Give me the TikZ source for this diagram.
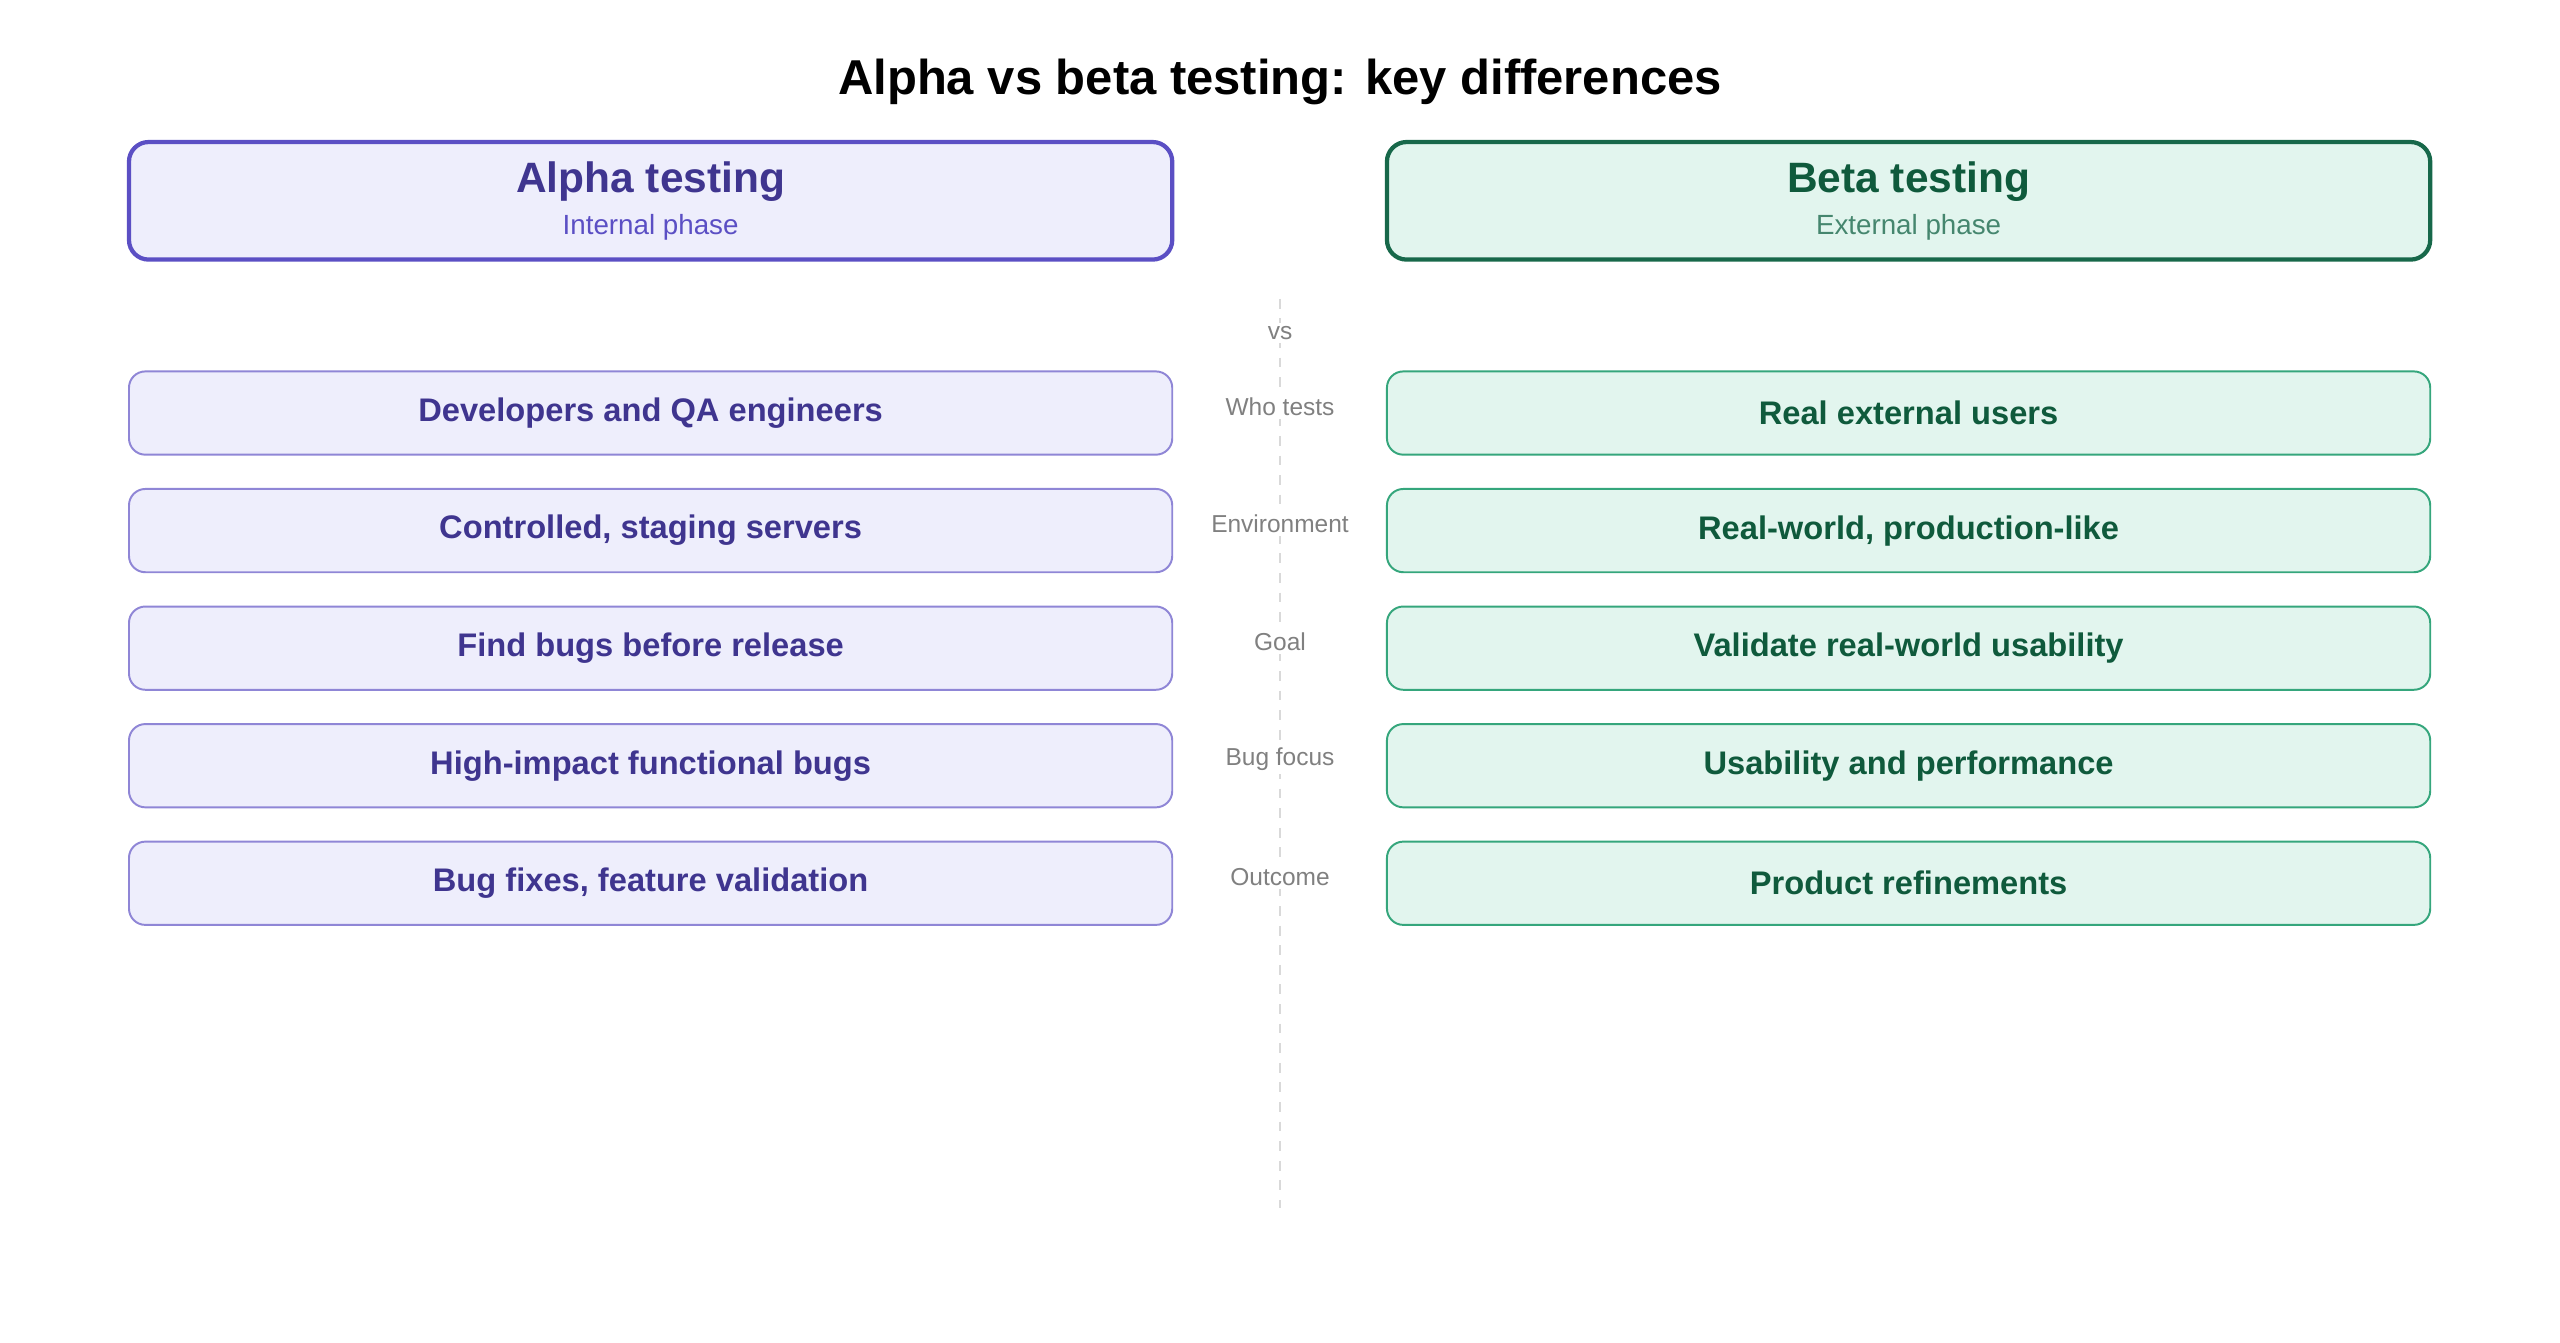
\documentclass[tikz,border=0pt]{standalone}
\usepackage{fontspec}
\setmainfont{Liberation Sans}
\usetikzlibrary{positioning}
\definecolor{alphafill}{HTML}{EEEEFC}
\definecolor{alphaline}{HTML}{5B4FC4}
\definecolor{alpharow}{HTML}{8F86D6}
\definecolor{alphatext}{HTML}{3F358F}
\definecolor{betafill}{HTML}{E2F5EE}
\definecolor{betaline}{HTML}{17684A}
\definecolor{betarow}{HTML}{35A67C}
\definecolor{betatext}{HTML}{0F5A3C}
\definecolor{midgray}{HTML}{808080}
\tikzset{
    head/.style={rounded corners=6pt,line width=1.3pt,minimum width=319.5pt,minimum height=36pt,align=center},
    row/.style={rounded corners=5pt,line width=0.6pt,minimum width=319.5pt,minimum height=25.5pt,font=\fontsize{10}{12}\selectfont\bfseries},
    alpha/.style={fill=alphafill,text=alphatext},
    beta/.style={fill=betafill,text=betatext},
    lbl/.style={text=midgray,font=\fontsize{7.5}{9}\selectfont}
}
\begin{document}
\begin{tikzpicture}[x=0.5pt,y=-0.5pt]
    \useasboundingbox (0,0) rectangle (1568,822);

    \node (title) at (784,50) {\fontsize{15}{18}\selectfont\bfseries Alpha vs beta testing: key differences};

    \node[head,alpha,draw=alphaline] (alphahead) at (398.5,123)
        {{\fontsize{13}{16}\selectfont\bfseries Alpha testing}\\[1pt]{\fontsize{8.5}{10}\selectfont\color{alphaline}Internal phase}};
    \node[head,beta,draw=betaline] (betahead) at (1169,123)
        {{\fontsize{13}{16}\selectfont\bfseries Beta testing}\\[1pt]{\fontsize{8.5}{10}\selectfont\color{betaline!80}External phase}};

    \coordinate (top) at (784,183);
    \coordinate (bottom) at (784,740);
    \draw[gray!30,dashed,line width=0.6pt] (top) -- (bottom);

    \node[lbl,fill=white,inner sep=1pt] (vs) at (784,204) {vs};

    \foreach \y/\what/\a/\b [count=\i] in {
        253/Who tests/Developers and QA engineers/Real external users,
        325/Environment/{Controlled, staging servers}/{Real-world, production-like},
        397/Goal/Find bugs before release/Validate real-world usability,
        469/Bug focus/High-impact functional bugs/Usability and performance,
        541/Outcome/{Bug fixes, feature validation}/Product refinements}{
        \node[row,alpha,draw=alpharow] (alpha\i) at (398.5,\y) {\a};
        \node[row,beta,draw=betarow] (beta\i) at (1169,\y) {\b};
        \node[lbl,fill=white,inner sep=1pt] (what\i) at (784,\y-4) {\what};
    }
\end{tikzpicture}
\end{document}
